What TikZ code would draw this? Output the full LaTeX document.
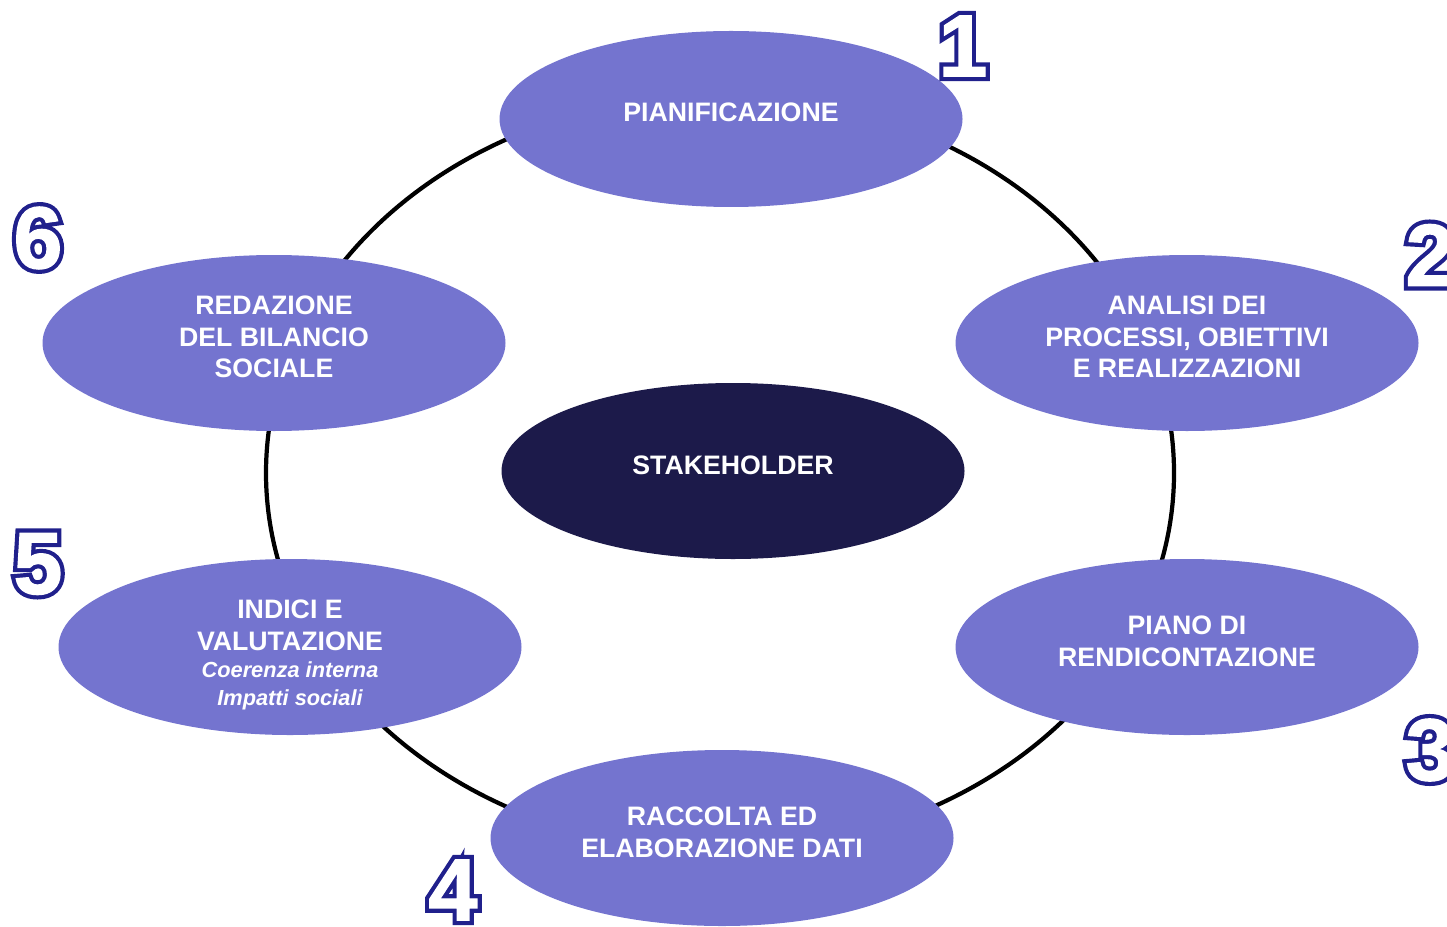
\documentclass[tikz,border=0pt]{standalone}
\usepackage{fontspec}
\setmainfont{Liberation Sans}
\newfontfamily\numedge[FakeBold=11]{Liberation Sans Bold}
\newfontfamily\numface[FakeBold=1.5]{Liberation Sans Bold}
\usetikzlibrary{shapes.geometric,positioning}
\definecolor{fase}{RGB}{116,116,207}
\definecolor{centro}{RGB}{28,26,74}
\definecolor{cifra}{RGB}{32,32,140}

\newcommand{\cifra}[3]{%
  \node[text=cifra,font=\numedge\fontsize{25}{25}\selectfont] at (#2) {#3};
  \node[text=white,font=\numface\fontsize{25}{25}\selectfont] (#1) at (#2) {#3};}

\begin{document}
\begin{tikzpicture}[font=\bfseries\fontsize{7.6}{9.1}\selectfont,
    fasebox/.style={ellipse,fill=fase,text=white,align=center,minimum width=4.63cm,minimum height=1.76cm,inner sep=0pt,text depth=3.6pt}]
                \useasboundingbox (0,0) rectangle (14.47,9.26);
                \coordinate (c) at (7.20,4.53);
                \draw[line width=1.2pt] (c) ellipse (4.54 and 3.78);
                \node[fasebox] (pian) at (7.31,8.07) {PIANIFICAZIONE};
                \node[fasebox] (anal) at (11.87,5.83) {ANALISI DEI\\PROCESSI, OBIETTIVI\\E REALIZZAZIONI};
                \node[fasebox] (rend) at (11.87,2.79) {PIANO DI\\RENDICONTAZIONE};
                \node[fasebox] (racc) at (7.22,0.88) {RACCOLTA ED\\ELABORAZIONE DATI};
                \node[fasebox,text depth=0pt] (indi) at (2.90,2.79) {\rule{0pt}{8.4pt}INDICI E\\VALUTAZIONE\\[-1.4pt]{\itshape\fontsize{6.2}{7.5}\selectfont Coerenza interna}\\[-1.3pt]{\itshape\fontsize{6.2}{7.5}\selectfont Impatti sociali}};
                \node[fasebox] (reda) at (2.74,5.83) {REDAZIONE\\DEL BILANCIO\\SOCIALE};
                \node[fasebox,fill=centro] (stak) at (7.33,4.55) {STAKEHOLDER};
                \cifra{n1}{9.63,8.80}{1}
                \cifra{n2}{14.30,6.71}{2}
                \cifra{n3}{14.30,1.76}{3}
                \cifra{n4}{4.53,0.36}{4}
                \cifra{n5}{0.38,3.62}{5}
                \cifra{n6}{0.38,6.88}{6}
            \end{tikzpicture}
\end{document}
